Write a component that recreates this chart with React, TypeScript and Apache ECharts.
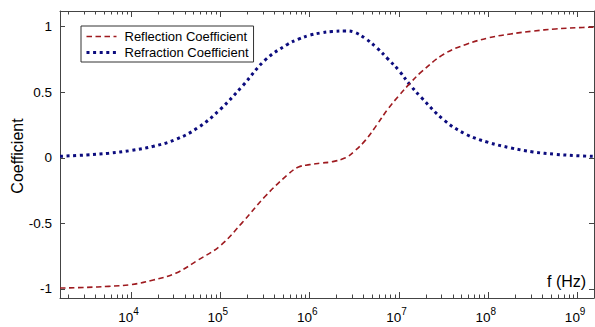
import React, { useEffect, useRef } from "react";
import * as echarts from "echarts";

// log10 of frequency in Hz
const log10Freq = [3.205, 3.5, 3.75, 4.0, 4.25, 4.5, 4.75, 5.0, 5.25, 5.5, 5.75, 5.875, 6.0, 6.125, 6.25, 6.4, 6.5, 6.625, 6.75, 6.875, 7.0, 7.125, 7.25, 7.5, 7.75, 8.0, 8.25, 8.5, 8.75, 9.0, 9.183];
const reflection = [-0.993, -0.988, -0.98, -0.967, -0.932, -0.88, -0.78, -0.67, -0.49, -0.295, -0.13, -0.07, -0.052, -0.04, -0.03, 0.0, 0.05, 0.135, 0.25, 0.372, 0.475, 0.57, 0.655, 0.79, 0.865, 0.915, 0.945, 0.967, 0.983, 0.993, 0.997];
const refraction = [0.012, 0.022, 0.035, 0.056, 0.088, 0.14, 0.23, 0.37, 0.55, 0.745, 0.865, 0.905, 0.935, 0.953, 0.964, 0.968, 0.958, 0.91, 0.84, 0.755, 0.665, 0.555, 0.46, 0.29, 0.18, 0.118, 0.076, 0.045, 0.027, 0.016, 0.011];

const seriesNames = ["Reflection Coefficient", "Refraction Coefficient"];
const majorExponents = [4, 5, 6, 7, 8, 9];
const yTicks = [-1, -0.5, 0, 0.5, 1];
const xMin = 3.205;
const xMax = 9.183;
const yMin = -1.069;
const yMax = 1.12;

const FONT = "Liberation Sans, Arial, sans-serif";
const AXIS_COLOR = "#444";
const RED = "#9e1a1f";
const BLUE = "#0c0c7e";

function minorTicks(): number[] {
  const out: number[] = [];
  for (let n = 3; n <= 9; n++) {
    for (let k = 2; k <= 9; k++) {
      const v = n + Math.log10(k);
      if (v > xMin && v < xMax) out.push(v);
    }
  }
  return out;
}

export default function App() {
  const ref = useRef<HTMLDivElement>(null);
  useEffect(() => {
    if (!ref.current) return;
    const chart = echarts.init(ref.current, undefined, { renderer: "svg" });
    const minors = minorTicks();
    const baseX = (pos: "top" | "bottom", ticks: number[], len: number, line: boolean, labels: boolean) => ({
      type: "value",
      position: pos,
      min: xMin,
      max: xMax,
      axisLine: { show: line, onZero: false, lineStyle: { color: AXIS_COLOR, width: 1 } },
      axisTick: { show: true, inside: true, length: len, customValues: ticks, lineStyle: { color: AXIS_COLOR, width: 1 } },
      splitLine: { show: false },
      axisLabel: labels
        ? {
            show: true,
            customValues: ticks,
            margin: 8,
            padding: [0, 5, 0, 0],
            formatter: (v: number) => `{b|10}{s|${Math.round(v)}}`,
            rich: {
              b: { fontSize: 13.5, fontFamily: FONT, color: "#000", lineHeight: 18, verticalAlign: "bottom" },
              s: { fontSize: 10, fontFamily: FONT, color: "#000", lineHeight: 12, verticalAlign: "top" },
            },
          }
        : { show: false },
    });
    const baseY = (pos: "left" | "right", labels: boolean) => ({
      type: "value",
      position: pos,
      min: yMin,
      max: yMax,
      axisLine: { show: true, onZero: false, lineStyle: { color: AXIS_COLOR, width: 1 } },
      axisTick: { show: true, inside: true, length: 5, customValues: yTicks, lineStyle: { color: AXIS_COLOR, width: 1 } },
      splitLine: { show: false },
      axisLabel: labels
        ? { show: true, customValues: yTicks, margin: 8, fontSize: 13.5, fontFamily: FONT, color: "#000" }
        : { show: false },
    });
    chart.setOption({
      animation: false,
      backgroundColor: "#fff",
      grid: { left: 60, right: 1, top: 11, bottom: 29 },
      xAxis: [
        baseX("bottom", majorExponents, 6, true, true),
        baseX("bottom", minors, 3.5, false, false),
        baseX("top", majorExponents, 6, true, false),
        baseX("top", minors, 3.5, false, false),
      ],
      yAxis: [baseY("left", true), baseY("right", false)],
      legend: {
        orient: "vertical",
        left: 81,
        top: 26,
        itemWidth: 30,
        itemHeight: 14,
        itemGap: 3,
        padding: [4, 5, 3, 4],
        borderColor: "#333",
        borderWidth: 1,
        borderRadius: 0,
        backgroundColor: "#fff",
        itemStyle: { opacity: 0 },
        textStyle: { fontSize: 13, fontFamily: FONT, color: "#000", padding: [0, 0, 0, 3] },
        data: [
          { name: seriesNames[0], itemStyle: { opacity: 0 }, lineStyle: { color: RED, width: 1.6, type: [5.5, 3.5] } },
          { name: seriesNames[1], itemStyle: { opacity: 0 }, lineStyle: { color: BLUE, width: 3, type: [3, 3.6] } },
        ],
      },
      series: [
        {
          name: seriesNames[0],
          type: "line",
          xAxisIndex: 0,
          yAxisIndex: 0,
          data: log10Freq.map((x, i) => [x, reflection[i]]),
          symbol: "none",
          showSymbol: false,
          smooth: 0.4,
          color: RED,
          lineStyle: { color: RED, width: 1.6, type: [5.5, 3.5] },
          z: 3,
        },
        {
          name: seriesNames[1],
          type: "line",
          xAxisIndex: 0,
          yAxisIndex: 0,
          data: log10Freq.map((x, i) => [x, refraction[i]]),
          symbol: "none",
          showSymbol: false,
          smooth: 0.4,
          color: BLUE,
          lineStyle: { color: BLUE, width: 3, type: [3, 3.6] },
          z: 2,
        },
      ],
      graphic: [
        {
          type: "text",
          x: 17,
          y: 156,
          rotation: Math.PI / 2,
          style: { text: "Coefficient", fontSize: 16, fontFamily: FONT, fill: "#000", align: "center", verticalAlign: "middle" },
        },
        {
          type: "text",
          x: 547,
          y: 281,
          style: { text: "f (Hz)", fontSize: 16, fontFamily: FONT, fill: "#000", align: "left", verticalAlign: "middle" },
        },
      ],
    });
    return () => chart.dispose();
  }, []);
  return <div ref={ref} style={{ position: "absolute", left: 0, top: 0, width: 595, height: 327 }} />;
}
